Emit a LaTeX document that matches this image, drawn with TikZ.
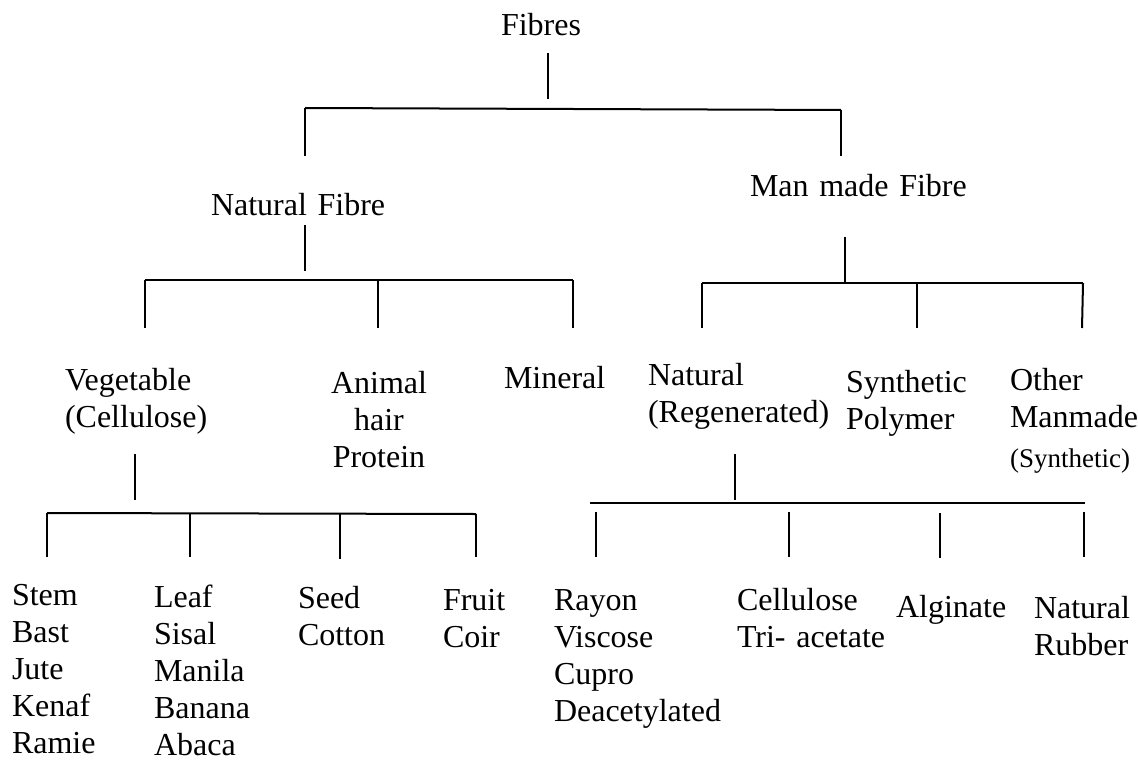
\documentclass[tikz,border=0pt]{standalone}
\usepackage{fontspec}
\setmainfont{Liberation Serif}

\tikzset{
  lbl/.style={inner sep=0pt, outer sep=0pt, anchor=base west, text width=130pt, align=left, font=\fontsize{16}{18.5}\selectfont},
  lblc/.style={lbl, anchor=base, text width=60pt, align=center},
  branch/.style={draw=drawColor, line width=1.0pt, line join=round},
}

\begin{document}
\begin{tikzpicture}[x=0.5pt,y=-0.5pt]
\definecolor{fillColor}{RGB}{255,255,255}
\definecolor{drawColor}{RGB}{0,0,0}
\path[use as bounding box,fill=fillColor] (0,0) rectangle (1138,759);

\begin{scope}
\node[lbl] (fibres) at (501, 36) {Fibres};

\node[lbl] (natural) at (211,215) {Natural Fibre};

\node[lbl] (manmade) at (750,197) {Man made Fibre};
\end{scope}
\begin{scope}
\node[lbl] (vegetable) at ( 65,390) {Vegetable\\(Cellulose)};

\node[lblc] (animal) at (379,393) {Animal\\hair\\Protein};

\node[lbl] (mineral) at (504,388) {Mineral};

\node[lbl] (regen) at (648,385) {Natural\\(Regenerated)};

\node[lbl] (polymer) at (846,392) {Synthetic\\Polymer};

\node[lbl] (other) at (1010,390) {Other\\Manmade\\[1.5pt]{\fontsize{13.5}{18.5}\selectfont (Synthetic)}};
\end{scope}
\begin{scope}
\node[lbl] (stem) at ( 12,605) {Stem\\Bast\\Jute\\Kenaf\\Ramie};

\node[lbl] (leaf) at (154,607) {Leaf\\Sisal\\Manila\\Banana\\Abaca};

\node[lbl] (seed) at (298,608) {Seed\\Cotton};

\node[lbl] (fruit) at (443,610) {Fruit\\Coir};

\node[lbl] (rayon) at (554,610) {Rayon\\Viscose\\Cupro\\Deacetylated};

\node[lbl] (acetate) at (737,610) {Cellulose\\Tri- acetate};

\node[lbl] (alginate) at (896,617) {Alginate};

\node[lbl] (rubber) at (1034,618) {Natural\\Rubber};
\end{scope}

\begin{scope}
\coordinate (fibres-s) at (548, 53);
\coordinate (fibres-j) at (548, 99);
\coordinate (top-l) at (305,108);
\coordinate (top-r) at (841,110);
\coordinate (natural-n) at (305,156);
\coordinate (manmade-n) at (841,156);

\path[branch] (fibres-s) -- (fibres-j);

\path[branch] (top-l) -- (top-r);

\path[branch] (top-l) -- (natural-n);

\path[branch] (top-r) -- (manmade-n);
\end{scope}
\begin{scope}
\coordinate (natural-s) at (305,225);
\coordinate (natural-j) at (305,271);
\coordinate (nat-l) at (145,280);
\coordinate (nat-m) at (378,280);
\coordinate (nat-r) at (573,280);
\coordinate (vegetable-n) at (145,328);
\coordinate (animal-n) at (378,328);
\coordinate (mineral-n) at (573,328);

\path[branch] (natural-s) -- (natural-j);

\path[branch] (nat-l) -- (nat-r);

\path[branch] (nat-l) -- (vegetable-n);

\path[branch] (nat-m) -- (animal-n);

\path[branch] (nat-r) -- (mineral-n);
\end{scope}
\begin{scope}
\coordinate (manmade-s) at (845,237);
\coordinate (manmade-j) at (845,282);
\coordinate (man-l) at (702,283);
\coordinate (man-m) at (917,283);
\coordinate (man-r) at (1083,283);
\coordinate (regen-n) at (702,328);
\coordinate (polymer-n) at (917,328);
\coordinate (other-n) at (1082,328);

\path[branch] (manmade-s) -- (manmade-j);

\path[branch] (man-l) -- (man-r);

\path[branch] (man-l) -- (regen-n);

\path[branch] (man-m) -- (polymer-n);

\path[branch] (man-r) -- (other-n);
\end{scope}
\begin{scope}
\coordinate (vegetable-s) at (135,454);
\coordinate (vegetable-j) at (135,500);
\coordinate (veg-1) at ( 47,513);
\coordinate (veg-2) at (190,513);
\coordinate (veg-3) at (340,514);
\coordinate (veg-4) at (476,514);
\coordinate (stem-n) at ( 47,557);
\coordinate (leaf-n) at (190,557);
\coordinate (seed-n) at (340,559);
\coordinate (fruit-n) at (476,557);

\path[branch] (vegetable-s) -- (vegetable-j);

\path[branch] (veg-1) -- (veg-4);

\path[branch] (veg-1) -- (stem-n);

\path[branch] (veg-2) -- (leaf-n);

\path[branch] (veg-3) -- (seed-n);

\path[branch] (veg-4) -- (fruit-n);
\end{scope}
\begin{scope}
\coordinate (regen-s) at (735,454);
\coordinate (regen-j) at (735,500);
\coordinate (reg-l) at (590,503);
\coordinate (reg-r) at (1085,503);
\coordinate (rayon-t) at (596,512);
\coordinate (rayon-n) at (596,557);
\coordinate (acetate-t) at (789,512);
\coordinate (acetate-n) at (789,557);
\coordinate (alginate-t) at (940,513);
\coordinate (alginate-n) at (940,558);
\coordinate (rubber-t) at (1084,512);
\coordinate (rubber-n) at (1084,557);

\path[branch] (regen-s) -- (regen-j);

\path[branch] (reg-l) -- (reg-r);

\path[branch] (rayon-t) -- (rayon-n);

\path[branch] (acetate-t) -- (acetate-n);

\path[branch] (alginate-t) -- (alginate-n);

\path[branch] (rubber-t) -- (rubber-n);
\end{scope}
\end{tikzpicture}
\end{document}
